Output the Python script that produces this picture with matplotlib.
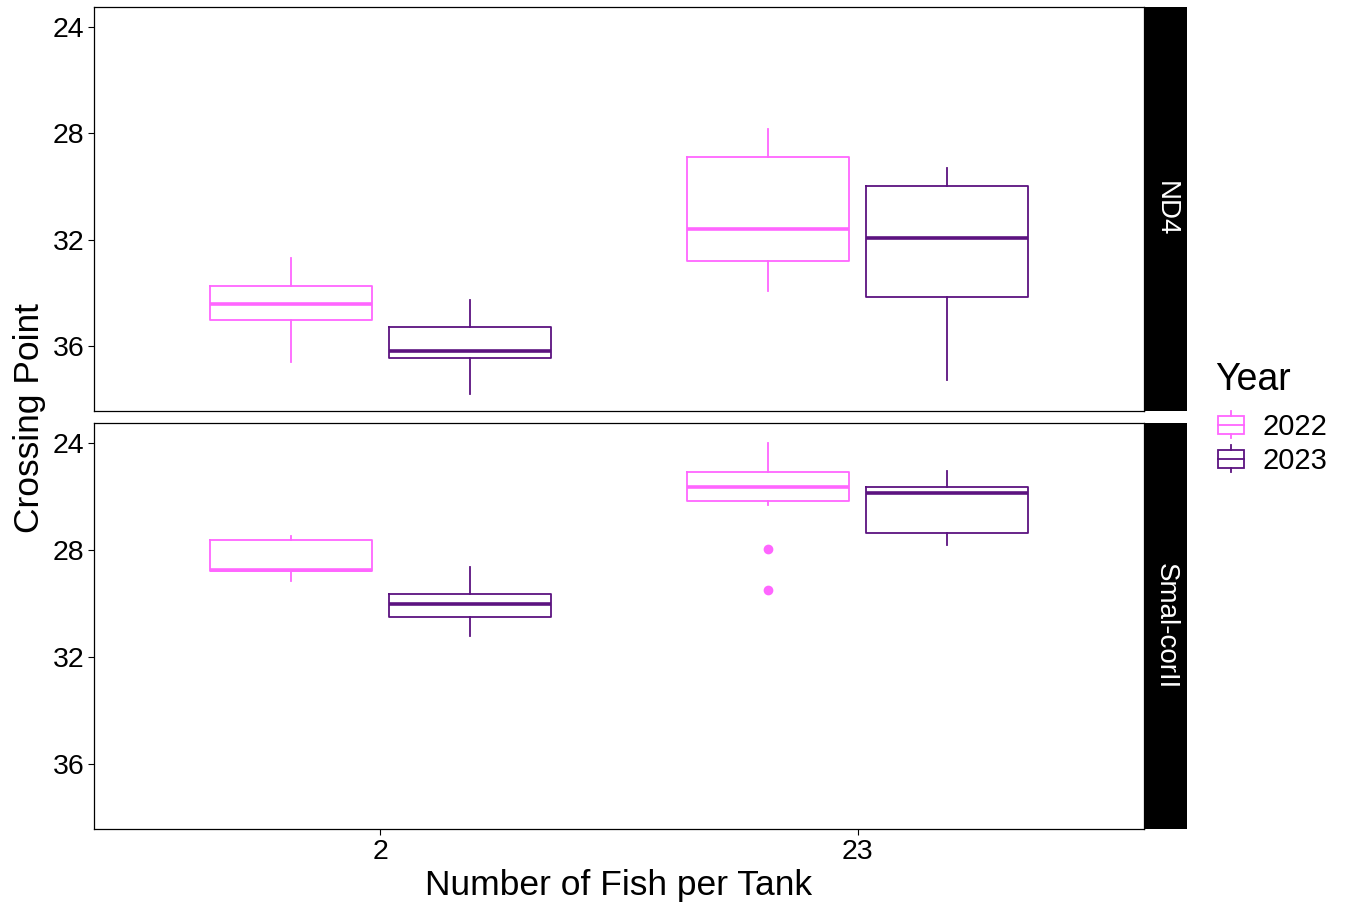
import matplotlib
matplotlib.use('Agg')
import matplotlib.pyplot as plt
from matplotlib.patches import Rectangle
from matplotlib.lines import Line2D
from matplotlib.legend_handler import HandlerBase

plt.rcParams['font.family'] = ['Liberation Sans', 'DejaVu Sans']

# data (Crossing Point, y axis is reversed)
fish = ['2', '23']
years = ['2022', '2023']
genes = ['ND4', 'Smal-corII']
colors = {'2022': '#FF66FF', '2023': '#5C1380'}

# ND4: one value per fish group, order = fish
nd4_2022_whislo = [32.68, 27.83]
nd4_2022_q1 = [33.74, 28.89]
nd4_2022_med = [34.41, 31.59]
nd4_2022_q3 = [35.02, 32.80]
nd4_2022_whishi = [36.59, 33.92]
nd4_2022_fliers = [[], []]

nd4_2023_whislo = [34.26, 29.30]
nd4_2023_q1 = [35.28, 29.98]
nd4_2023_med = [36.18, 31.93]
nd4_2023_q3 = [36.44, 34.15]
nd4_2023_whishi = [37.80, 37.27]
nd4_2023_fliers = [[], []]

# Smal-corII
smal_2022_whislo = [27.48, 24.00]
smal_2022_q1 = [27.63, 25.08]
smal_2022_med = [28.75, 25.64]
smal_2022_q3 = [28.79, 26.17]
smal_2022_whishi = [29.16, 26.32]
smal_2022_fliers = [[], [27.96, 29.50]]

smal_2023_whislo = [28.64, 25.05]
smal_2023_q1 = [29.64, 25.64]
smal_2023_med = [30.02, 25.87]
smal_2023_q3 = [30.50, 27.36]
smal_2023_whishi = [31.21, 27.81]
smal_2023_fliers = [[], []]

y_ticks = [24, 28, 32, 36]


def make_stats(lo, q1, med, q3, hi, fl):
    out = []
    for i in range(len(lo)):
        out.append(dict(whislo=lo[i], q1=q1[i], med=med[i], q3=q3[i],
                        whishi=hi[i], fliers=fl[i]))
    return out


panel_data = {
    'ND4': {
        '2022': make_stats(nd4_2022_whislo, nd4_2022_q1, nd4_2022_med, nd4_2022_q3, nd4_2022_whishi, nd4_2022_fliers),
        '2023': make_stats(nd4_2023_whislo, nd4_2023_q1, nd4_2023_med, nd4_2023_q3, nd4_2023_whishi, nd4_2023_fliers),
    },
    'Smal-corII': {
        '2022': make_stats(smal_2022_whislo, smal_2022_q1, smal_2022_med, smal_2022_q3, smal_2022_whishi, smal_2022_fliers),
        '2023': make_stats(smal_2023_whislo, smal_2023_q1, smal_2023_med, smal_2023_q3, smal_2023_whishi, smal_2023_fliers),
    },
}

W, H = 1348, 907
fig = plt.figure(figsize=(W / 100, H / 100), dpi=100)

left, right = 94 / W, 1144 / W
strip_w = 43 / W
panels_px = [(7, 411), (423, 829)]
offsets = {'2022': -0.1875, '2023': 0.1875}

for k, gene in enumerate(genes):
    top_px, bot_px = panels_px[k]
    ax = fig.add_axes([left, 1 - bot_px / H, right - left, (bot_px - top_px) / H])
    for yr in years:
        c = colors[yr]
        pos = [i + 1 + offsets[yr] for i in range(len(fish))]
        ax.bxp(panel_data[gene][yr], positions=pos, widths=0.34, showcaps=False,
               boxprops=dict(color=c, linewidth=1.3),
               whiskerprops=dict(color=c, linewidth=1.3),
               medianprops=dict(color=c, linewidth=2.6),
               flierprops=dict(marker='o', markerfacecolor=c, markeredgecolor=c,
                               markersize=6, linestyle='none'))
    ax.set_xlim(0.4, 2.6)
    ax.set_ylim(38.45, 23.25)
    ax.set_yticks(y_ticks)
    ax.set_yticklabels([str(t) for t in y_ticks])
    ax.tick_params(axis='y', labelsize=20.5, length=4, width=0.8, colors='black', pad=3)
    ax.set_xticks([1, 2])
    if k == 0:
        ax.tick_params(axis='x', length=0, labelbottom=False)
    else:
        ax.set_xticklabels(fish)
        ax.tick_params(axis='x', labelsize=20.5, length=4, width=0.8, pad=3)
    for s in ax.spines.values():
        s.set_linewidth(0.9)
        s.set_color('black')

    # facet strip on the right
    sax = fig.add_axes([right, 1 - bot_px / H, strip_w, (bot_px - top_px) / H])
    sax.set_facecolor('black')
    sax.set_xticks([])
    sax.set_yticks([])
    for s in sax.spines.values():
        s.set_visible(False)
    sax.text(0.5, 0.5, gene, rotation=-90, color='white', fontsize=20,
             ha='center', va='center', transform=sax.transAxes)

fig.text(30 / W, 1 - 418 / H, 'Crossing Point', rotation=90, fontsize=25.5,
         ha='center', va='center')
fig.text((94 + 1144) / 2 / W, 1 - 886 / H, 'Number of Fish per Tank', fontsize=25.5,
         ha='center', va='center')


class BoxKey(HandlerBase):
    def create_artists(self, legend, orig_handle, xdescent, ydescent, width, height, fontsize, trans):
        c = orig_handle.get_color()
        cx = width / 2 - xdescent
        bw = width
        bh = height
        y0 = height / 2 - ydescent - bh / 2
        rect = Rectangle((cx - bw / 2, y0), bw, bh, fill=False, edgecolor=c,
                         linewidth=1.3, transform=trans)
        med = Line2D([cx - bw / 2, cx + bw / 2], [y0 + bh / 2] * 2, color=c, lw=1.3, transform=trans)
        wt = Line2D([cx, cx], [y0 + bh, y0 + bh + height * 0.25], color=c, lw=1.3, transform=trans)
        wb = Line2D([cx, cx], [y0, y0 - height * 0.25], color=c, lw=1.3, transform=trans)
        return [rect, med, wt, wb]


fig.text(1215 / W, 1 - 380 / H, 'Year', fontsize=27, ha='left', va='center')
handles = [Line2D([], [], color=colors[yr]) for yr in years]
leg = fig.legend(handles, years, handler_map={Line2D: BoxKey()},
                 loc='center left', bbox_to_anchor=(1218 / W, 1 - 444 / H),
                 frameon=False, fontsize=21,
                 handlelength=0.88, handleheight=0.58, handletextpad=0.65,
                 labelspacing=0.2, borderaxespad=0, borderpad=0)

fig.savefig('out.png', dpi=100)
